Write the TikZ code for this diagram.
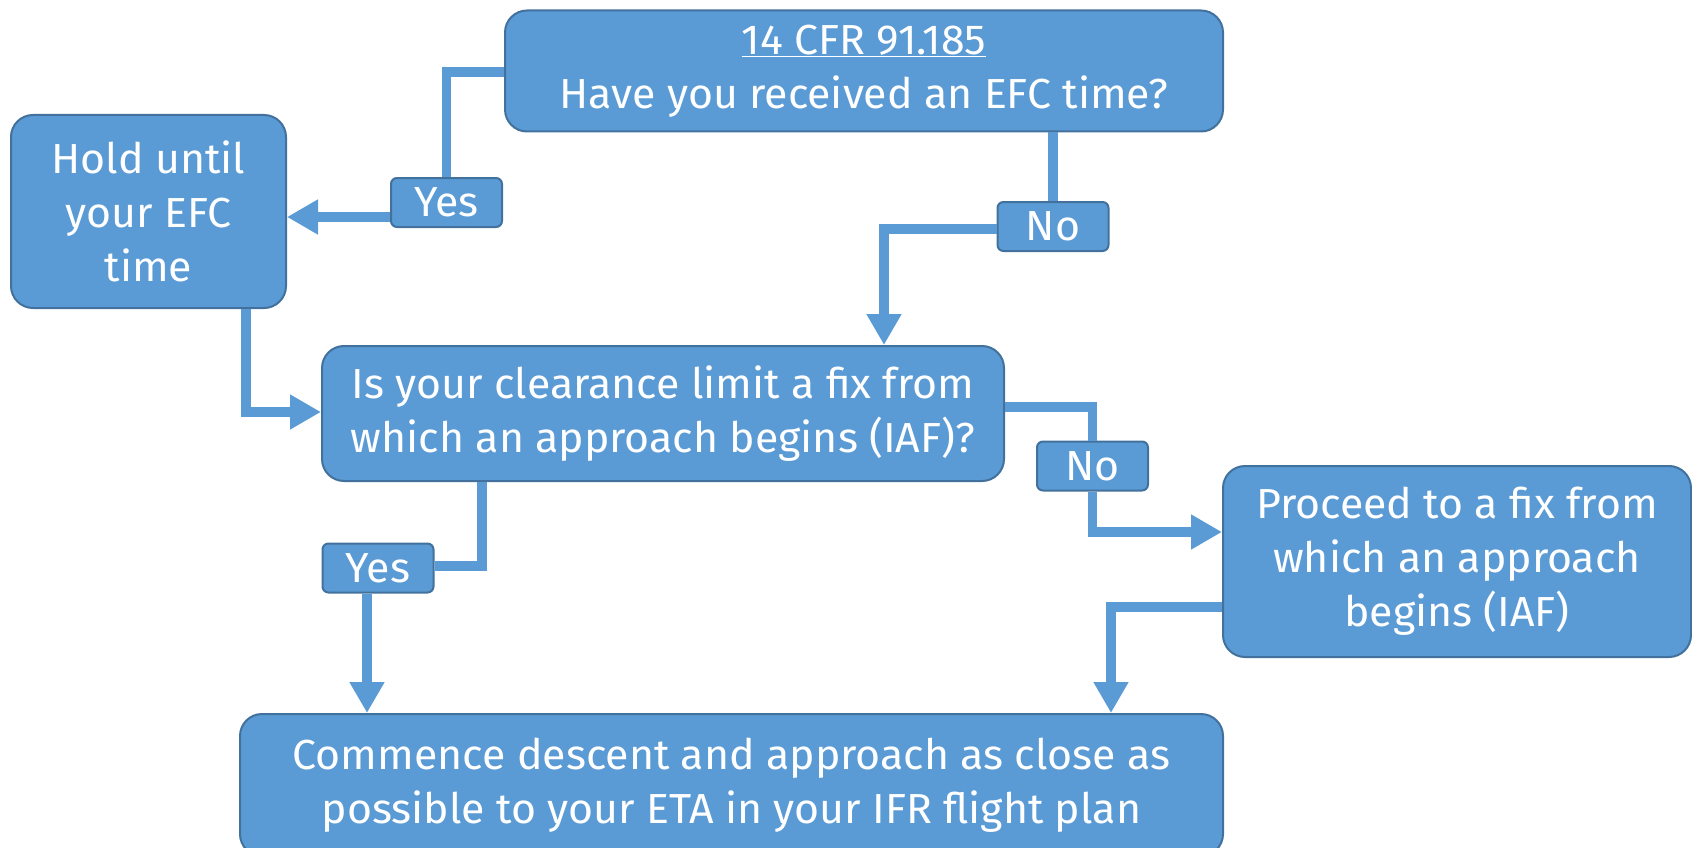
\documentclass[tikz,border=0pt]{standalone}
\usepackage{fontspec}
\setmainfont[FakeStretch=1.02]{Fira Sans}
\usetikzlibrary{arrows.meta}
\definecolor{boxfill}{HTML}{5B9BD5}
\definecolor{boxline}{HTML}{41719C}
\tikzset{
  box/.style={draw=boxline, line width=2pt, fill=boxfill, rounded corners=22pt, text=white, align=center, font=\fontsize{42}{54}\selectfont, inner sep=0pt},
  lab/.style={draw=boxline, line width=2pt, fill=boxfill, rounded corners=6pt, text=white, align=center, font=\fontsize{42}{54}\selectfont, inner sep=0pt, minimum width=111pt, minimum height=49pt},
  conn/.style={draw=boxfill, line width=9.5pt},
  arr/.style={conn, -{Triangle[length=31pt,width=33pt]}}
}
\begin{document}
\begin{tikzpicture}[x=1pt,y=-1pt]
\useasboundingbox (0,0) rectangle (1692,848);
\node[box, minimum width=718pt, minimum height=121pt] (top) at (864,71) {\underline{14 CFR 91.185}\\Have you received an EFC time?};
\node[box, minimum width=275pt, minimum height=193pt] (hold) at (148.5,211.5) {Hold until\\your EFC\\time};
\node[box, minimum width=682pt, minimum height=135pt] (clear) at (663,413.5) {Is your clearance limit a fix from\\which an approach begins (IAF)?};
\node[box, minimum width=468pt, minimum height=191pt] (proc) at (1457,561.5) {Proceed to a fix from\\which an approach\\begins (IAF)};
\node[box, minimum width=983pt, minimum height=142pt] (comm) at (731.5,785) {Commence descent and approach as close as\\possible to your ETA in your IFR flight plan};
\coordinate (c1) at (446,72);
\coordinate (c2) at (884,229);
\coordinate (c3) at (246,412);
\coordinate (c4) at (1093,407);
\coordinate (c5) at (1093,532);
\coordinate (c6) at (482,566);
\coordinate (c7) at (367,600);
\coordinate (c8) at (1111,607);
\coordinate (c9) at (0,217);
\node[lab] (yes1) at (446.5,202.5) {Yes};
\node[lab] (no1) at (1053,226.5) {No};
\node[lab] (no2) at (1092.5,466) {No};
\node[lab] (yes2) at (378,568) {Yes};
% connectors
\draw[conn] (top.west |- c1) -| (yes1.north);
\draw[arr] (yes1.west |- c9) -- (hold.east |- c9);
\draw[conn] (no1.north |- top.south) -- (no1.north);
\draw[arr] (no1.west |- c2) -| (c2 |- clear.north);
\draw[arr] (c3 |- hold.south) |- (clear.west |- c3);
\draw[conn] (clear.east |- c4) -| (no2.north);
\draw[arr] (no2.south) |- (proc.west |- c5);
\draw[conn] (c6 |- clear.south) |- (yes2.east |- c6);
\draw[arr] (yes2.south -| c7) -- (comm.north -| c7);
\draw[arr] (proc.west |- c8) -| (c8 |- comm.north);
\end{tikzpicture}
\end{document}
